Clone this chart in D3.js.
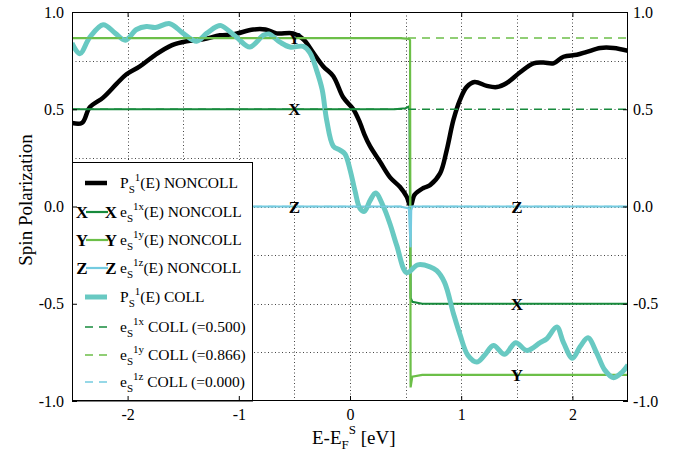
<!DOCTYPE html>
<html>
<head>
<meta charset="utf-8">
<script src="https://cdn.jsdelivr.net/npm/d3@7"></script>
<style>
  body { margin: 0; background: #fff; }
  text { font-family: "Liberation Serif", "Times New Roman", serif; }
</style>
</head>
<body>
<svg id="chart" width="679" height="455"></svg>
<script>
// spin polarization P_S^1(E), noncollinear
var energyNoncoll = [-2.50,-2.41,-2.34,-2.22,-2.10,-2.01,-1.89,-1.75,-1.60,-1.47,-1.32,-1.17,-1.05,-0.87,-0.76,-0.66,-0.51,-0.42,-0.33,-0.24,-0.15,-0.06,0.03,0.09,0.13,0.18,0.27,0.36,0.45,0.51,0.545,0.58,0.66,0.72,0.81,0.87,0.93,0.99,1.05,1.12,1.23,1.32,1.41,1.53,1.65,1.74,1.83,1.92,2.04,2.13,2.25,2.37,2.50];
var polNoncoll    = [0.43,0.43,0.51,0.56,0.63,0.68,0.72,0.78,0.83,0.85,0.86,0.88,0.885,0.91,0.91,0.89,0.89,0.86,0.79,0.72,0.67,0.56,0.50,0.43,0.37,0.31,0.23,0.15,0.10,0.05,0.0,0.06,0.095,0.11,0.17,0.29,0.445,0.55,0.615,0.64,0.62,0.614,0.635,0.69,0.736,0.74,0.736,0.77,0.78,0.795,0.815,0.815,0.80];

// spin polarization P_S^1(E), collinear
var energyColl = [-2.50,-2.43,-2.34,-2.22,-2.11,-2.02,-1.92,-1.83,-1.75,-1.62,-1.50,-1.38,-1.29,-1.20,-1.16,-1.02,-0.90,-0.78,-0.73,-0.63,-0.54,-0.42,-0.36,-0.30,-0.25,-0.21,-0.15,-0.09,-0.045,0.0,0.045,0.09,0.13,0.18,0.23,0.30,0.36,0.42,0.51,0.61,0.72,0.78,0.85,0.93,0.99,1.06,1.14,1.21,1.29,1.39,1.49,1.59,1.71,1.77,1.86,1.92,2.00,2.07,2.14,2.22,2.29,2.37,2.45,2.50];
var polColl    = [0.84,0.785,0.87,0.935,0.89,0.855,0.91,0.925,0.92,0.94,0.89,0.85,0.89,0.925,0.93,0.87,0.82,0.88,0.887,0.845,0.82,0.823,0.79,0.70,0.60,0.445,0.31,0.29,0.27,0.19,0.08,-0.01,-0.025,0.03,0.07,0.0,-0.09,-0.20,-0.34,-0.30,-0.31,-0.33,-0.39,-0.55,-0.66,-0.765,-0.80,-0.765,-0.715,-0.76,-0.70,-0.74,-0.70,-0.68,-0.62,-0.70,-0.78,-0.72,-0.675,-0.755,-0.84,-0.88,-0.85,-0.815];

// magnetization direction components, noncollinear
var energyEx = [-2.5, 0.40, 0.50, 0.535, 0.545, 0.56, 0.65, 2.5];
var ex       = [0.5, 0.5, 0.505, 0.515, -0.47, -0.49, -0.5, -0.5];
var energyEy = [-2.5, 0.45, 0.53, 0.540, 0.545, 0.56, 0.65, 2.5];
var ey       = [0.866, 0.866, 0.862, 0.855, -0.93, -0.875, -0.866, -0.866];
var energyEz = [-2.5, 0.45, 0.53, 0.545, 0.55, 0.56, 0.65, 2.5];
var ez       = [0, 0, -0.01, -0.21, -0.02, 0, 0, 0];

// collinear constants
var collConst = [0.500, 0.866, 0.000];
var collLabels = ["0.500", "0.866", "0.000"];

var markerEnergies = [-0.5, 1.5];
var xTickValues = [-2, -1, 0, 1, 2];
var yTickValues = [-1, -0.5, 0, 0.5, 1];
var xGridValues = [-2, -1.5, -1, -0.5, 0, 0.5, 1, 1.5, 2];
var yGridValues = [-0.75, -0.5, -0.25, 0, 0.25, 0.5, 0.75];

var colBlack = "#000000", colX = "#178a3c", colY = "#6cbf48", colZ = "#74cbe0", colColl = "#68c9c2";

var pLeft = 72, pRight = 628, pTop = 12, pBottom = 401;
var svg = d3.select("#chart");

var x = d3.scaleLinear().domain([-2.5, 2.5]).range([pLeft, pRight]);
var y = d3.scaleLinear().domain([-1, 1]).range([pBottom, pTop]);

svg.append("defs").append("clipPath").attr("id", "plotclip")
  .append("rect").attr("x", pLeft).attr("y", pTop).attr("width", pRight - pLeft).attr("height", pBottom - pTop);

// grid
var grid = svg.append("g").attr("stroke", "#444").attr("stroke-width", 1).attr("stroke-dasharray", "1,2.5");
grid.selectAll(".gx").data(xGridValues).enter().append("line")
  .attr("x1", function(d){ return Math.round(x(d)) + 0.5; }).attr("x2", function(d){ return Math.round(x(d)) + 0.5; })
  .attr("y1", pTop).attr("y2", pBottom);
grid.selectAll(".gy").data(yGridValues).enter().append("line")
  .attr("y1", function(d){ return Math.round(y(d)) + 0.5; }).attr("y2", function(d){ return Math.round(y(d)) + 0.5; })
  .attr("x1", pLeft).attr("x2", pRight);

var plot = svg.append("g").attr("clip-path", "url(#plotclip)");

function series(ex_, ey_) { return ex_.map(function(e, i){ return [e, ey_[i]]; }); }
function interp(es, vs, e) {
  for (var i = 1; i < es.length; i++) {
    if (e <= es[i]) { var t = (e - es[i-1]) / (es[i] - es[i-1]); return vs[i-1] + t * (vs[i] - vs[i-1]); }
  }
  return vs[vs.length - 1];
}

var smooth = d3.line().x(function(d){ return x(d[0]); }).y(function(d){ return y(d[1]); }).curve(d3.curveCatmullRom.alpha(0.5));
var straight = d3.line().x(function(d){ return x(d[0]); }).y(function(d){ return y(d[1]); });

// black noncoll
plot.append("path").attr("d", smooth(series(energyNoncoll, polNoncoll)))
  .attr("fill", "none").attr("stroke", colBlack).attr("stroke-width", 4.5).attr("stroke-linejoin", "round");

// component lines
var comps = [
  {es: energyEx, vs: ex, col: colX, letter: "X"},
  {es: energyEy, vs: ey, col: colY, letter: "Y"},
  {es: energyEz, vs: ez, col: colZ, letter: "Z"}
];
comps.forEach(function(c){
  plot.append("path").attr("d", straight(series(c.es, c.vs)))
    .attr("fill", "none").attr("stroke", c.col).attr("stroke-width", 2.2);
  plot.selectAll(null).data(markerEnergies).enter().append("text")
    .attr("x", function(d){ return x(d); })
    .attr("y", function(d){ return y(interp(c.es, c.vs, d)) + 6; })
    .attr("text-anchor", "middle").attr("font-size", 17).attr("font-weight", "bold")
    .text(c.letter);
});

// teal coll
plot.append("path").attr("d", smooth(series(energyColl, polColl)))
  .attr("fill", "none").attr("stroke", colColl).attr("stroke-width", 5).attr("stroke-linejoin", "round");

// dashed coll constants
var dashCols = [colX, colY, colZ];
plot.selectAll(".cc").data(collConst).enter().append("line")
  .attr("x1", x(-2.5)).attr("x2", x(2.5))
  .attr("y1", function(d){ return y(d); }).attr("y2", function(d){ return y(d); })
  .attr("stroke", function(d, i){ return dashCols[i]; })
  .attr("stroke-width", 1.6).attr("stroke-dasharray", "8,6");

// legend
var lg = svg.append("g");
lg.append("rect").attr("x", pLeft + 0.5).attr("y", 162.5).attr("width", 180).attr("height", pBottom - 162.5)
  .attr("fill", "#fff").attr("stroke", "#000").attr("stroke-width", 1);

var rowY = [183, 212, 240, 268, 297, 327, 355, 382];
function addLabel(yy, base, sup, rest) {
  var t = lg.append("text").attr("x", 120).attr("y", yy + 5).attr("font-size", 15.5);
  t.append("tspan").text(base);
  t.append("tspan").attr("dy", 5).attr("font-size", 11).text("S");
  t.append("tspan").attr("dy", -12).attr("font-size", 11).text(sup);
  t.append("tspan").attr("dy", 7).text(rest);
}
// P noncoll
lg.append("line").attr("x1", 85).attr("x2", 107).attr("y1", rowY[0]).attr("y2", rowY[0]).attr("stroke", colBlack).attr("stroke-width", 4.5);
addLabel(rowY[0], "P", "1", "(E) NONCOLL");
comps.forEach(function(c, i){
  var yy = rowY[i + 1];
  lg.append("line").attr("x1", 86).attr("x2", 108).attr("y1", yy).attr("y2", yy).attr("stroke", c.col).attr("stroke-width", 2.2);
  [82, 111].forEach(function(px){
    lg.append("text").attr("x", px).attr("y", yy + 6).attr("text-anchor", "middle")
      .attr("font-size", 17).attr("font-weight", "bold").text(c.letter);
  });
  addLabel(yy, "e", "1" + c.letter.toLowerCase(), "(E) NONCOLL");
});
lg.append("line").attr("x1", 85).attr("x2", 107).attr("y1", rowY[4]).attr("y2", rowY[4]).attr("stroke", colColl).attr("stroke-width", 5);
addLabel(rowY[4], "P", "1", "(E) COLL");
collConst.forEach(function(v, i){
  var yy = rowY[5 + i];
  lg.append("line").attr("x1", 85).attr("x2", 107).attr("y1", yy).attr("y2", yy)
    .attr("stroke", dashCols[i]).attr("stroke-width", 1.6).attr("stroke-dasharray", "8,6");
  addLabel(yy, "e", "1" + ["x", "y", "z"][i], " COLL (=" + collLabels[i] + ")");
});

// frame
svg.append("rect").attr("x", pLeft + 0.5).attr("y", pTop + 0.5).attr("width", pRight - pLeft - 1).attr("height", pBottom - pTop - 1)
  .attr("fill", "none").attr("stroke", "#000").attr("stroke-width", 1);

// axes
var fmt = d3.format(".1f");
var axL = svg.append("g").attr("transform", "translate(" + pLeft + ",0)")
  .call(d3.axisLeft(y).tickValues(yTickValues).tickFormat(fmt).tickSizeInner(-5).tickSizeOuter(0).tickPadding(8));
var axR = svg.append("g").attr("transform", "translate(" + pRight + ",0)")
  .call(d3.axisRight(y).tickValues(yTickValues).tickFormat(fmt).tickSizeInner(-5).tickSizeOuter(0).tickPadding(5));
var axB = svg.append("g").attr("transform", "translate(0," + pBottom + ")")
  .call(d3.axisBottom(x).tickValues(xTickValues).tickFormat(d3.format("d")).tickSizeInner(-5).tickSizeOuter(0).tickPadding(8));
var axT = svg.append("g").attr("transform", "translate(0," + pTop + ")")
  .call(d3.axisTop(x).tickValues(xTickValues).tickFormat("").tickSizeInner(-5).tickSizeOuter(0));
[axL, axR, axB, axT].forEach(function(a){
  a.attr("font-family", null);
  a.select(".domain").remove();
  a.selectAll("text").attr("font-size", 16).attr("fill", "#000");
});
axB.selectAll("text").text(function(d){ return d < 0 ? "-" + Math.abs(d) : d; });
axL.selectAll("text").text(function(d){ return (d < 0 ? "-" : "") + fmt(Math.abs(d)); });
axR.selectAll("text").text(function(d){ return (d < 0 ? "-" : "") + fmt(Math.abs(d)); });

// axis titles
svg.append("text").attr("transform", "translate(32,200) rotate(-90)").attr("text-anchor", "middle")
  .attr("font-size", 19).text("Spin Polarization");
var xt = svg.append("text").attr("x", 312).attr("y", 444).attr("font-size", 19);
xt.append("tspan").text("E-E");
xt.append("tspan").attr("dy", 5).attr("font-size", 13).text("F");
xt.append("tspan").attr("dy", -15).attr("font-size", 13).text("S");
xt.append("tspan").attr("dy", 10).text(" [eV]");
</script>
</body>
</html>
